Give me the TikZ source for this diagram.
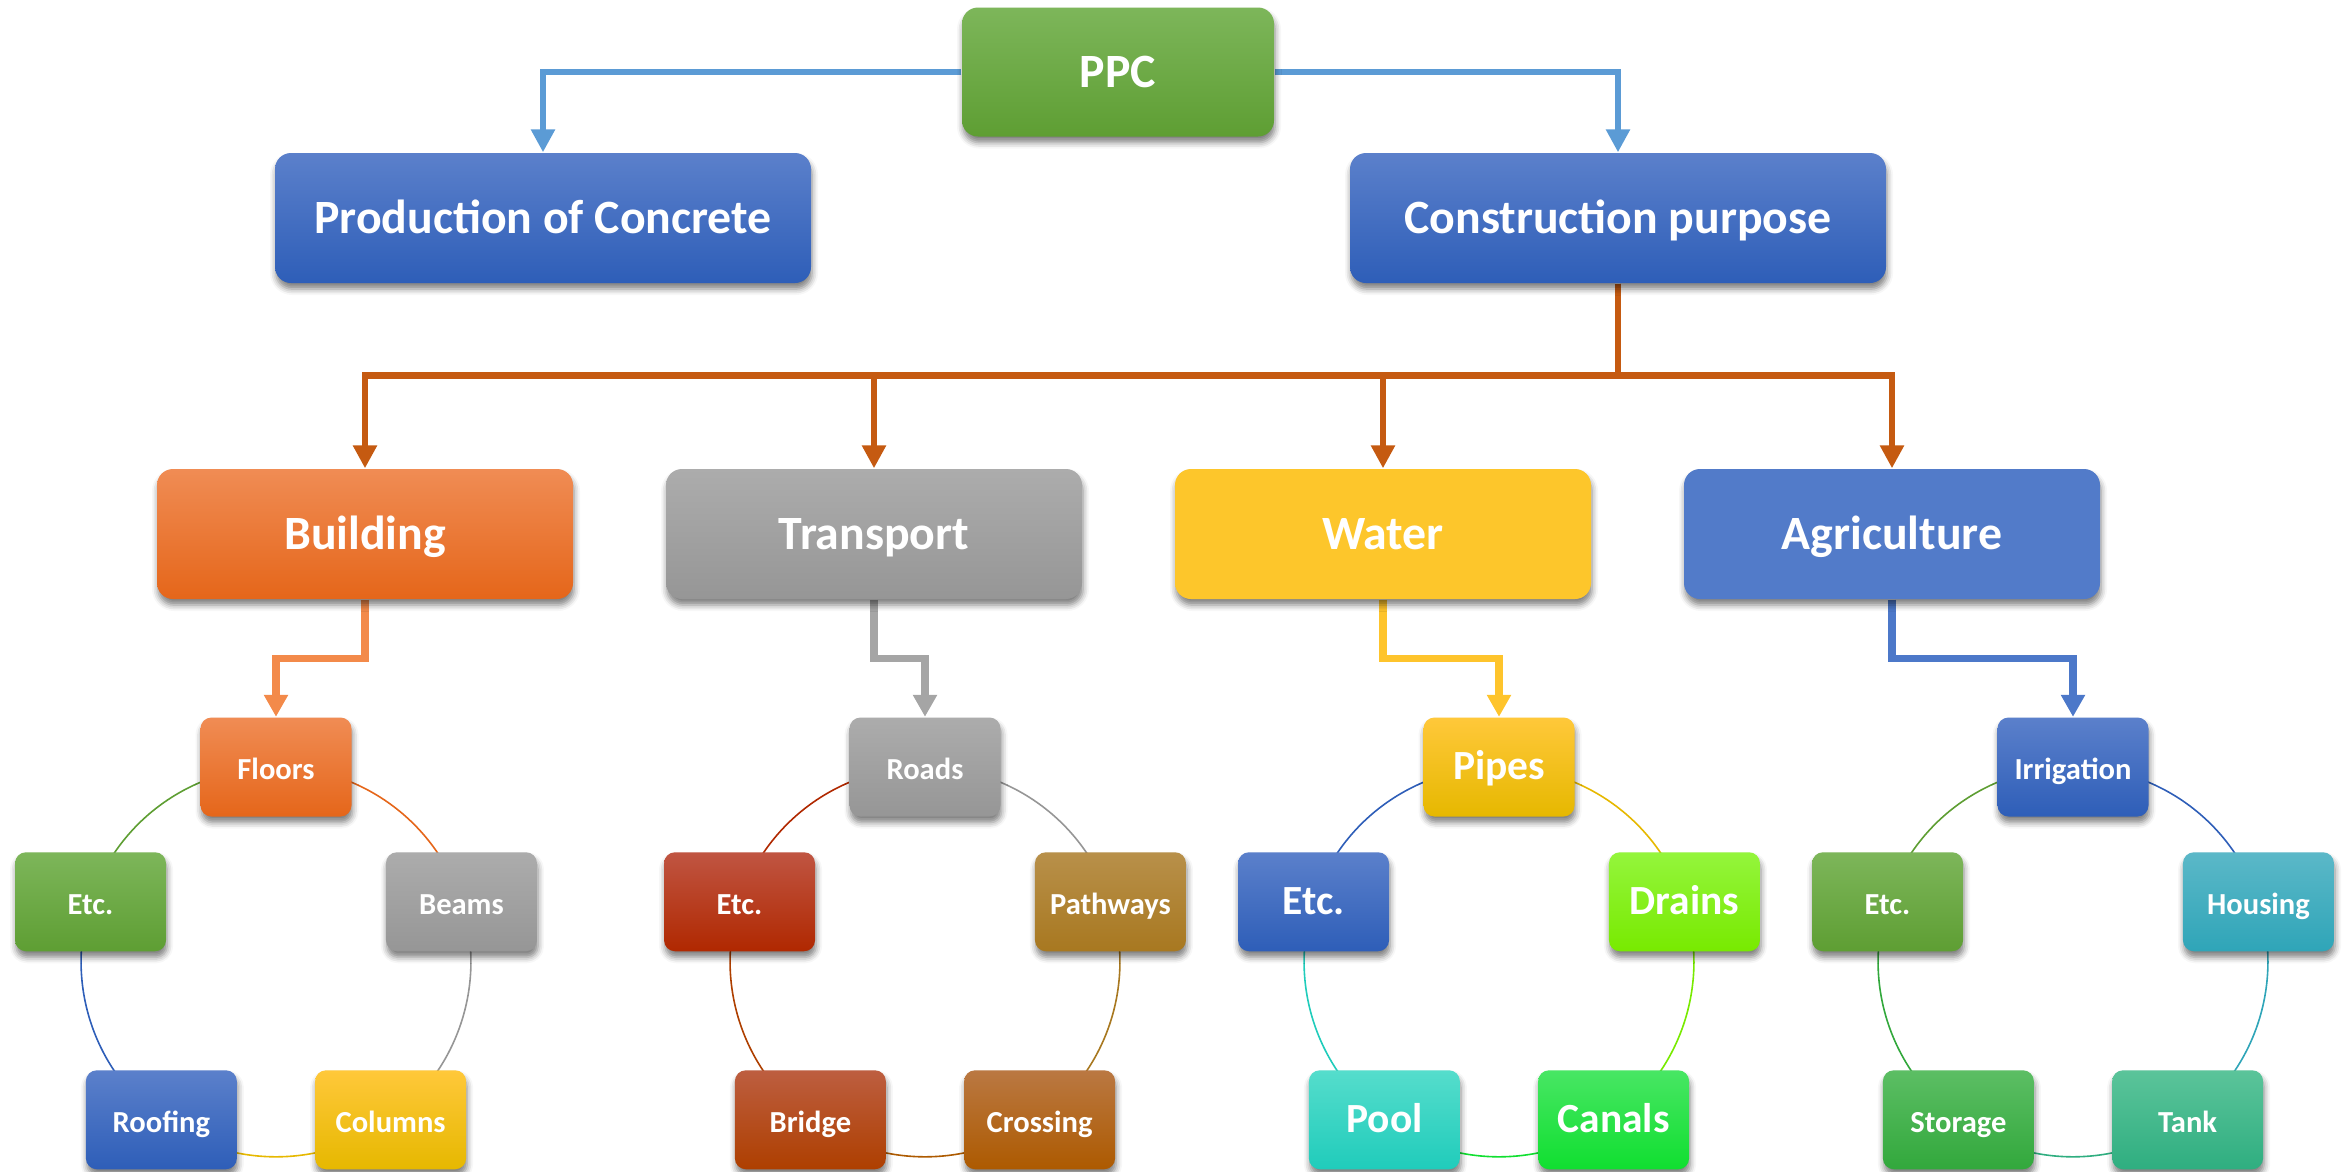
\documentclass[tikz,border=0pt]{standalone}
\usepackage{fontspec}
\setmainfont{Carlito}
\usepackage{xcolor}
\usetikzlibrary{arrows.meta,positioning,calc,backgrounds,shadows.blur}

% colours
\definecolor{linkblue}{HTML}{5B9BD5}
\definecolor{linkorange}{HTML}{C55A11}
\definecolor{greenT}{HTML}{7DB65A}
\definecolor{greenB}{HTML}{5E9E33}
\definecolor{blueT}{HTML}{5B80CB}
\definecolor{blueB}{HTML}{2E5EB8}
\definecolor{agriblue}{HTML}{527BC9}
\definecolor{orangeT}{HTML}{F08C54}
\definecolor{orangeB}{HTML}{E5661A}
\definecolor{grayT}{HTML}{ACACAC}
\definecolor{grayB}{HTML}{969696}
\definecolor{goldT}{HTML}{FFC83A}
\definecolor{goldB}{HTML}{E6B800}
\definecolor{waterT}{HTML}{FDC62B}
\definecolor{waterM}{HTML}{F0BD00}
\definecolor{pathT}{HTML}{B8904A}
\definecolor{pathB}{HTML}{A87820}
\definecolor{crossT}{HTML}{BA7842}
\definecolor{crossB}{HTML}{AD5A00}
\definecolor{bridgeT}{HTML}{BD5E40}
\definecolor{bridgeB}{HTML}{AE3F00}
\definecolor{redT}{HTML}{C05542}
\definecolor{redB}{HTML}{B02800}
\definecolor{drainT}{HTML}{94F53C}
\definecolor{drainB}{HTML}{78EA00}
\definecolor{canalT}{HTML}{48E664}
\definecolor{canalB}{HTML}{10DF30}
\definecolor{poolT}{HTML}{55DDCC}
\definecolor{poolB}{HTML}{20CCBB}
\definecolor{houseT}{HTML}{5BB8C8}
\definecolor{houseB}{HTML}{2FA5B8}
\definecolor{tankT}{HTML}{5BC49A}
\definecolor{tankB}{HTML}{2FAE80}
\definecolor{storeT}{HTML}{5CBE64}
\definecolor{storeB}{HTML}{32A83C}
\definecolor{elbOrange}{HTML}{F38A4A}
\definecolor{elbGray}{HTML}{A5A5A5}
\definecolor{elbGold}{HTML}{FEC42C}
\definecolor{elbBlue}{HTML}{4C78C9}

\tikzset{
    box/.style={rectangle, inner sep=0pt, text=white, align=center,
        text height=0.87em, text depth=0pt,
        blur shadow={shadow xshift=0.01cm, shadow yshift=-0.06cm,
            shadow blur radius=0.06cm, shadow opacity=50}},
    topbox/.style={box, rounded corners=0.16cm, minimum width=5.36cm, minimum height=1.3cm,
        font=\fontsize{13.6}{16}\selectfont\bfseries},
    midbox/.style={box, rounded corners=0.16cm, minimum width=4.16cm, minimum height=1.3cm,
        font=\fontsize{13.6}{16}\selectfont\bfseries},
    ringbox/.style={box, rounded corners=0.11cm, minimum width=1.51cm, minimum height=0.99cm,
        text height=0.7em, font=\fontsize{8.7}{10}\selectfont\bfseries},
    bigring/.style={font=\fontsize{11.8}{14}\selectfont\bfseries},
    grad/.style 2 args={top color=#1, bottom color=#2},
    conn/.style={line width=0.065cm, -{Triangle[length=0.23cm,width=0.23cm]}},
    elbow/.style={line width=0.072cm, -{Triangle[length=0.22cm,width=0.23cm]}},
    ringarc/.style={line width=0.016cm, bend left=36, looseness=0.94}
}

\begin{document}
\begin{tikzpicture}
    \useasboundingbox (0,0) rectangle (23.46,-11.71);
    \clip (0,0) rectangle (23.46,-11.71);

    % top levels
    \node[topbox, grad={greenT}{greenB}, minimum width=3.12cm, minimum height=1.29cm] (ppc) at (11.18,-0.72) {PPC};
    \node[topbox, grad={blueT}{blueB}] (prod) at (5.43,-2.18) {Production of Concrete};
    \node[topbox, grad={blueT}{blueB}] (cons) at (16.18,-2.18) {Construction purpose};

    \node[midbox, grad={orangeT}{orangeB}] (bld) at (3.65,-5.34) {Building};
    \node[midbox, grad={grayT}{grayB}] (tra) at (8.74,-5.34) {Transport};
    \node[midbox, top color=waterT, middle color=waterM, bottom color=waterT] (wat) at (13.83,-5.34) {Water};
    \node[midbox, fill=agriblue] (agr) at (18.92,-5.34) {Agriculture};

    % ring centres
    \coordinate (bc) at (2.76,-9.62);
    \coordinate (tc) at (9.25,-9.62);
    \coordinate (wc) at (14.99,-9.62);
    \coordinate (ac) at (20.73,-9.62);

    % building ring
    \node[ringbox, grad={orangeT}{orangeB}] (b1) at ($(bc)+(90:1.95)$) {Floors};
    \node[ringbox, grad={grayT}{grayB}] (b2) at ($(bc)+(18:1.95)$) {Beams};
    \node[ringbox, grad={goldT}{goldB}] (b3) at ($(bc)+(-54:1.95)$) {Columns};
    \node[ringbox, grad={blueT}{blueB}] (b4) at ($(bc)+(234:1.95)$) {Roofing};
    \node[ringbox, grad={greenT}{greenB}] (b5) at ($(bc)+(162:1.95)$) {Etc.};

    % transport ring
    \node[ringbox, grad={grayT}{grayB}] (t1) at ($(tc)+(90:1.95)$) {Roads};
    \node[ringbox, grad={pathT}{pathB}] (t2) at ($(tc)+(18:1.95)$) {Pathways};
    \node[ringbox, grad={crossT}{crossB}] (t3) at ($(tc)+(-54:1.95)$) {Crossing};
    \node[ringbox, grad={bridgeT}{bridgeB}] (t4) at ($(tc)+(234:1.95)$) {Bridge};
    \node[ringbox, grad={redT}{redB}] (t5) at ($(tc)+(162:1.95)$) {Etc.};

    % water ring
    \node[ringbox, bigring, grad={goldT}{goldB}] (w1) at ($(wc)+(90:1.95)$) {Pipes};
    \node[ringbox, bigring, grad={drainT}{drainB}] (w2) at ($(wc)+(18:1.95)$) {Drains};
    \node[ringbox, bigring, grad={canalT}{canalB}] (w3) at ($(wc)+(-54:1.95)$) {Canals};
    \node[ringbox, bigring, grad={poolT}{poolB}] (w4) at ($(wc)+(234:1.95)$) {Pool};
    \node[ringbox, bigring, grad={blueT}{blueB}] (w5) at ($(wc)+(162:1.95)$) {Etc.};

    % agriculture ring
    \node[ringbox, grad={blueT}{blueB}] (a1) at ($(ac)+(90:1.95)$) {Irrigation};
    \node[ringbox, grad={houseT}{houseB}] (a2) at ($(ac)+(18:1.95)$) {Housing};
    \node[ringbox, grad={tankT}{tankB}] (a3) at ($(ac)+(-54:1.95)$) {Tank};
    \node[ringbox, grad={storeT}{storeB}] (a4) at ($(ac)+(234:1.95)$) {Storage};
    \node[ringbox, grad={greenT}{greenB}] (a5) at ($(ac)+(162:1.95)$) {Etc.};

    \begin{scope}[on background layer]
        % tree connectors
        \draw[conn, linkblue] (ppc.west) -| (prod.north);
        \draw[conn, linkblue] (ppc.east) -| (cons.north);
        \draw[conn, linkorange] (cons.south) -- ++(0,-0.92) -| (bld.north);
        \draw[conn, linkorange] (cons.south) -- ++(0,-0.92) -| (tra.north);
        \draw[conn, linkorange] (cons.south) -- ++(0,-0.92) -| (wat.north);
        \draw[conn, linkorange] (cons.south) -- ++(0,-0.92) -| (agr.north);
        \draw[elbow, elbOrange] (bld.south) -- ++(0,-0.59) -| (b1.north);
        \draw[elbow, elbGray] (tra.south) -- ++(0,-0.59) -| (t1.north);
        \draw[elbow, elbGold] (wat.south) -- ++(0,-0.59) -| (w1.north);
        \draw[elbow, elbBlue] (agr.south) -- ++(0,-0.59) -| (a1.north);

        % ring arcs
        \draw[ringarc, orangeB] (b1.center) to (b2.center);
        \draw[ringarc, grayB] (b2.center) to (b3.center);
        \draw[ringarc, goldB] (b3.center) to (b4.center);
        \draw[ringarc, blueB] (b4.center) to (b5.center);
        \draw[ringarc, greenB] (b5.center) to (b1.center);

        \draw[ringarc, grayB] (t1.center) to (t2.center);
        \draw[ringarc, pathB] (t2.center) to (t3.center);
        \draw[ringarc, crossB] (t3.center) to (t4.center);
        \draw[ringarc, bridgeB] (t4.center) to (t5.center);
        \draw[ringarc, redB] (t5.center) to (t1.center);

        \draw[ringarc, goldB] (w1.center) to (w2.center);
        \draw[ringarc, drainB] (w2.center) to (w3.center);
        \draw[ringarc, canalB] (w3.center) to (w4.center);
        \draw[ringarc, poolB] (w4.center) to (w5.center);
        \draw[ringarc, blueB] (w5.center) to (w1.center);

        \draw[ringarc, blueB] (a1.center) to (a2.center);
        \draw[ringarc, houseB] (a2.center) to (a3.center);
        \draw[ringarc, tankB] (a3.center) to (a4.center);
        \draw[ringarc, storeB] (a4.center) to (a5.center);
        \draw[ringarc, greenB] (a5.center) to (a1.center);
    \end{scope}
\end{tikzpicture}
\end{document}
